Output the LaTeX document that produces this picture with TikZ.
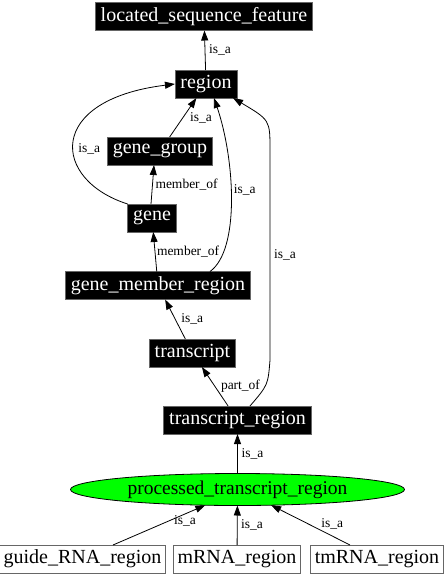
\documentclass[tikz,border=0pt]{standalone}
\usepackage{fontspec}
\setmainfont{Liberation Serif}
\usetikzlibrary{arrows.meta,shapes.geometric}
\begin{document}
\begin{tikzpicture}[x=1pt,y=-1pt,inner sep=0pt,outer sep=0pt,line width=0.8pt,
term/.style={draw=black!60,fill=black,text=white,rectangle,inner xsep=5.5pt,minimum height=28pt,font=\fontsize{20}{23}\selectfont},
leaf/.style={draw=black!60,fill=white,rectangle,inner xsep=4pt,minimum height=28pt,font=\fontsize{20}{23}\selectfont},
focus/.style={draw,ellipse,fill=green,minimum width=334pt,minimum height=32pt,font=\fontsize{19.5}{23}\selectfont},
rel/.style={font=\fontsize{13.5}{16}\selectfont},
>={Triangle[length=10pt,width=7pt]}]
\useasboundingbox (0,0) rectangle (445,576);
\draw (204,16.5) node[term] (lsf) {located\_sequence\_feature};
\draw (206,84) node[term] (region) {region};
\draw (160,151) node[term] (gene_group) {gene\_group};
\draw (152,218) node[term] (gene) {gene};
\draw (158,285.5) node[term] (gmr) {gene\_member\_region};
\draw (192.5,353) node[term] (transcript) {transcript};
\draw (237.5,420) node[term] (tr) {transcript\_region};
\draw (237.5,489.5) node[focus] (ptr) {processed\_transcript\_region};
\draw (82.5,559) node[leaf] (guide) {guide\_RNA\_region};
\draw (237,559) node[leaf] (mrna) {mRNA\_region};
\draw (377,559) node[leaf] (tmrna) {tmRNA\_region};
% is_a and part_of links
\draw[->] (region) -- node[rel,right=4pt] {is\_a} (lsf);
\draw[->] (gene_group) -- node[rel,right=7pt] {is\_a} (region);
\draw[->] ([xshift=-1pt]gene.north) -- node[rel,right=3pt] {member\_of} ([xshift=-6pt]gene_group.south);
\draw[->] (gene.north west) .. controls (52,180) and (45,100) .. node[rel,right=5pt,pos=.45] {is\_a} (region.west);
\draw[->] (gmr) -- node[rel,right=2pt] {member\_of} (gene);
\draw[->] ([xshift=52pt]gmr.north) .. controls (240,250) and (235,160) .. node[rel,right=3pt,pos=.55] {is\_a} ([xshift=8pt]region.south);
\draw[->] (transcript) -- node[rel,right=6pt] {is\_a} (gmr);
\draw[->] (tr) -- node[rel,right=6pt] {part\_of} (transcript);
\draw[->] ([xshift=12.5pt]tr.north) .. controls (268,385) .. (270,360) -- node[rel,right=4pt] {is\_a} (270,150) .. controls (270,120) .. ([xshift=-4pt]region.south east);
\draw[->] (ptr) -- node[rel,right=4pt] {is\_a} (tr);
\draw[->] ([xshift=30.5pt]guide.north) -- node[rel,pos=.78,below=2pt] {is\_a} (ptr.206);
\draw[->] (mrna) -- node[rel,right=4pt] {is\_a} (ptr);
\draw[->] ([xshift=-27pt]tmrna.north) -- node[rel,pos=.54,right=14pt] {is\_a} (ptr.335);
\end{tikzpicture}
\end{document}
